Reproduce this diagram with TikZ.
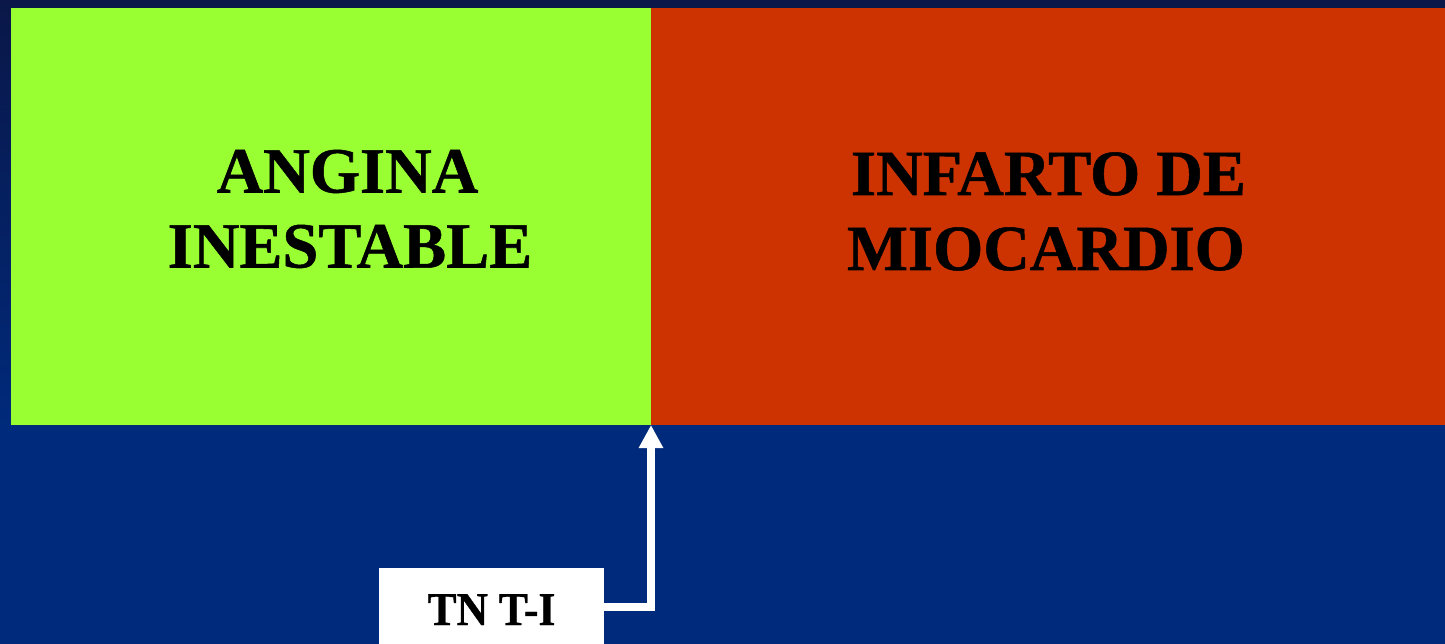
\documentclass[tikz,border=0pt]{standalone}
\usepackage{fontspec}
\setmainfont{Liberation Serif}
\newfontfamily\heavyserif[FakeBold=0.8]{Liberation Serif Bold}
\usetikzlibrary{arrows.meta}
\definecolor{navytop}{HTML}{0A1748}
\definecolor{navy}{HTML}{002A7B}
\definecolor{lime}{HTML}{99FF33}
\definecolor{brick}{HTML}{CC3300}
\begin{document}
\begin{tikzpicture}[x=1pt,y=-1pt,
  panel/.style={draw=none,inner sep=0pt,outer sep=0pt,anchor=north west},
  title/.style={font=\heavyserif\fontsize{64.5}{75}\selectfont,text=black,inner sep=0pt,anchor=base},
  tagbox/.style={fill=white,inner sep=0pt,outer sep=0pt,minimum width=225pt,minimum height=78pt},
  tagtext/.style={font=\heavyserif\fontsize{43.5}{48}\selectfont,text=black,inner sep=0pt,anchor=base},
  link/.style={draw=white,line width=8.5pt,-{Triangle[width=23pt,length=23pt]}}]
\useasboundingbox (0,0) rectangle (1445,644);
\clip (0,0) rectangle (1445,644);
% background: dark navy fading into blue
\fill[navy] (0,0) rectangle (1445,644);
\shade[top color=navytop,bottom color=navy] (0,0) rectangle (1445,430);
% the two panels
\node[panel,fill=lime,minimum width=640pt,minimum height=417pt] (angina) at (11,8) {};
\node[panel,fill=brick,minimum width=794pt,minimum height=417pt] (infarto) at (651,8) {};
\node[title] (a1) at (347.5,192.5) {ANGINA};
\node[title] (a2) at (350,267.5) {INESTABLE};
\node[title] (i1) at (1048.5,195) {INFARTO DE};
\node[title] (i2) at (1046,270) {MIOCARDIO};
% troponin tag and its pointer
\node[tagbox] (tn) at (491.5,607) {};
\node[tagtext] (tnlabel) at (491.5,625) {\scalebox{1}[1.08]{TN T-I}};
\draw[link] (tn.east) -| (angina.south east);
\end{tikzpicture}
\end{document}
